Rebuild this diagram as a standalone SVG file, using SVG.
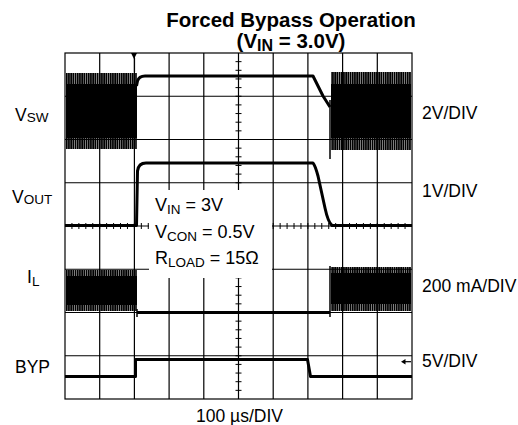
<svg xmlns="http://www.w3.org/2000/svg" width="518" height="425" viewBox="0 0 518 425">
<style>
text{font-family:"Liberation Sans",Arial,sans-serif;fill:#000}
.lbl{font-size:17.5px}
.box{font-size:18px}
.sub{font-size:13.5px}
.ttl{font-size:20.5px;font-weight:bold}
.grid{stroke:#000;stroke-width:1.2;fill:none}
.tick{stroke:#000;stroke-width:1;fill:none}
.tr{stroke:#000;stroke-width:3;fill:none;stroke-linejoin:round}
.core{fill:#000}
</style>
<defs>
<pattern id="nz" width="2.2" height="10" patternUnits="userSpaceOnUse"><rect width="1.8" height="10" fill="#000"/></pattern>
</defs>
<rect width="518" height="425" fill="#fff"/>
<g id="title">
<text class="ttl" x="291" y="27" text-anchor="middle">Forced Bypass Operation</text>
<text class="ttl" x="291" y="48" text-anchor="middle">(V<tspan font-size="16px" dy="3">IN</tspan><tspan dy="-3"> = 3.0V)</tspan></text>
</g>
<g id="grid">
<rect class="grid" x="65" y="53" width="347" height="346" stroke-width="2"/>
<path class="grid" d="M99.7,53V399M134.4,53V399M169.1,53V399M203.8,53V399M238.5,53V399M273.2,53V399M307.9,53V399M342.6,53V399M377.3,53V399M65,96.25H412M65,139.5H412M65,182.75H412M65,226H412M65,269.25H412M65,312.5H412M65,355.75H412"/>
<path class="tick" d="M235.5,61.65h6M235.5,70.3h6M235.5,78.95h6M235.5,87.6h6M235.5,104.9h6M235.5,113.55h6M235.5,122.2h6M235.5,130.85h6M235.5,148.15h6M235.5,156.8h6M235.5,165.45h6M235.5,174.1h6M235.5,191.4h6M235.5,200.05h6M235.5,208.7h6M235.5,217.35h6M235.5,234.65h6M235.5,243.3h6M235.5,251.95h6M235.5,260.6h6M235.5,277.9h6M235.5,286.55h6M235.5,295.2h6M235.5,303.85h6M235.5,321.15h6M235.5,329.8h6M235.5,338.45h6M235.5,347.1h6M235.5,364.4h6M235.5,373.05h6M235.5,381.7h6M235.5,390.35h6M235.5,96.25h6M235.5,139.5h6M235.5,182.75h6M235.5,269.25h6M235.5,312.5h6M235.5,355.75h6"/>
<path class="tick" d="M71.94,223v6M78.88,223v6M85.82,223v6M92.76,223v6M106.64,223v6M113.58,223v6M120.52,223v6M127.46,223v6M141.34,223v6M148.28,223v6M155.22,223v6M162.16,223v6M176.04,223v6M182.98,223v6M189.92,223v6M196.86,223v6M210.74,223v6M217.68,223v6M224.62,223v6M231.56,223v6M245.44,223v6M252.38,223v6M259.32,223v6M266.26,223v6M280.14,223v6M287.08,223v6M294.02,223v6M300.96,223v6M314.84,223v6M321.78,223v6M328.72,223v6M335.66,223v6M349.54,223v6M356.48,223v6M363.42,223v6M370.36,223v6M384.24,223v6M391.18,223v6M398.12,223v6M405.06,223v6M99.7,223v6M134.4,223v6M169.1,223v6M203.8,223v6M238.5,223v6M273.2,223v6M307.9,223v6M342.6,223v6M377.3,223v6"/>
</g>
<g id="textbox">
<rect x="149" y="190" width="123" height="88" fill="#fff"/>
<text class="box" x="155" y="211">V<tspan class="sub" dy="3">IN</tspan><tspan dy="-3"> = 3V</tspan></text>
<text class="box" x="155" y="238">V<tspan class="sub" dy="3">CON</tspan><tspan dy="-3"> = 0.5V</tspan></text>
<text class="box" x="155" y="264">R<tspan class="sub" dy="3">LOAD</tspan><tspan dy="-3"> = 15Ω</tspan></text>
</g>
<g id="traces">
<polygon points="131,53 137,53 134,59" fill="#000"/>
<path d="M134.5,58V72" stroke="#000" stroke-width="1.2"/>
<rect x="66" y="73" width="71" height="76" fill="url(#nz)"/>
<rect class="core" x="66" y="84" width="71" height="54"/>
<rect x="331" y="72" width="80" height="78" fill="url(#nz)"/>
<rect class="core" x="331" y="84" width="80" height="54"/>
<path d="M330,100V159" stroke="#000" stroke-width="1.5"/>
<path class="tr" d="M136.5,86L137.5,81Q139,76 145,76L313,76L323,96L330,107"/>
<path class="tr" d="M65,225.5L136.5,225.5L137.5,171Q138.5,163 146,163L313,163Q315,165 318,176L325,208Q328,222 332,225.5L412,225.5"/>
<rect x="66" y="270" width="71" height="41" fill="url(#nz)"/>
<rect class="core" x="66" y="276" width="71" height="29"/>
<rect x="331" y="267" width="80" height="44" fill="url(#nz)"/>
<rect class="core" x="331" y="273" width="80" height="31"/>
<path d="M330,266V317M137,309V317" stroke="#000" stroke-width="1.5"/>
<path class="tr" d="M137,312.5H330"/>
<path class="tr" d="M65,376.5H135.5V359.5H307.5L310.5,376.5H412"/>
<path d="M404,361.7H411" stroke="#000" stroke-width="1.2"/>
<polygon points="401,361.7 405.5,359 405.5,364.4" fill="#000"/>
</g>
<g id="labels">
<text class="lbl" x="15" y="121">V<tspan class="sub" dy="1">SW</tspan></text>
<text class="lbl" x="12" y="203">V<tspan class="sub" dy="1">OUT</tspan></text>
<text class="lbl" x="27" y="282.5">I<tspan class="sub" dy="3">L</tspan></text>
<text class="lbl" x="15" y="372.5">BYP</text>
<text class="lbl" x="422" y="119">2V/DIV</text>
<text class="lbl" x="422" y="196.5">1V/DIV</text>
<text class="lbl" x="422" y="291.5">200 mA/DIV</text>
<text class="lbl" x="422" y="367">5V/DIV</text>
<text class="lbl" x="196" y="422">100 µs/DIV</text>
</g>
</svg>
